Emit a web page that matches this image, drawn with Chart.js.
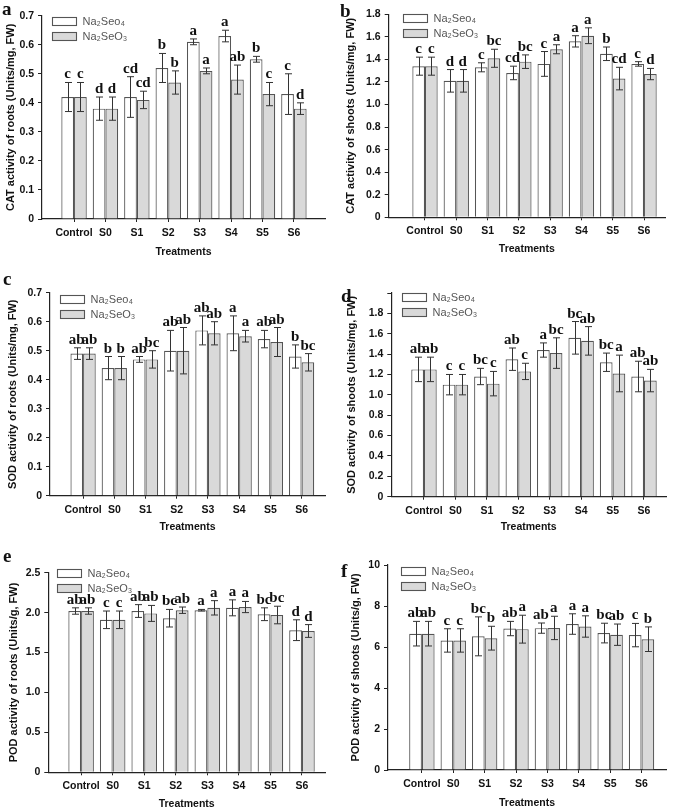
<!DOCTYPE html>
<html>
<head>
<meta charset="utf-8">
<title>Antioxidant enzyme activity</title>
<script src="https://cdn.jsdelivr.net/npm/chart.js@4.4.1/dist/chart.umd.min.js"></script>
<style>
  html, body { margin: 0; padding: 0; background: #fff; }
  #page { position: relative; width: 678px; height: 810px; overflow: hidden; }
  #page canvas { position: absolute; }
</style>
</head>
<body>
<div id="page">
  <canvas id="chartA" width="338" height="270" style="left:0;top:0"></canvas>
  <canvas id="chartB" width="340" height="270" style="left:338px;top:0"></canvas>
  <canvas id="chartC" width="338" height="270" style="left:0;top:270px"></canvas>
  <canvas id="chartD" width="340" height="270" style="left:338px;top:270px"></canvas>
  <canvas id="chartE" width="338" height="270" style="left:0;top:540px"></canvas>
  <canvas id="chartF" width="340" height="270" style="left:338px;top:540px"></canvas>
</div>
<script>
const treatments = ["Control", "S0", "S1", "S2", "S3", "S4", "S5", "S6"];
const seriesNames = ["Na₂Seo₄", "Na₂SeO₃"];

// a - CAT roots
const catRootsSeo4 = [0.42, 0.38, 0.42, 0.52, 0.61, 0.63, 0.55, 0.43];
const catRootsSeo4Err = [0.05, 0.04, 0.07, 0.05, 0.01, 0.02, 0.01, 0.07];
const catRootsSeo4Sig = ["c", "d", "cd", "b", "a", "a", "b", "c"];
const catRootsSeo3 = [0.42, 0.38, 0.41, 0.47, 0.51, 0.48, 0.43, 0.38];
const catRootsSeo3Err = [0.05, 0.04, 0.03, 0.04, 0.01, 0.05, 0.04, 0.02];
const catRootsSeo3Sig = ["c", "d", "cd", "b", "a", "ab", "c", "d"];

// b - CAT shoots
const catShootsSeo4 = [1.34, 1.21, 1.33, 1.28, 1.36, 1.56, 1.45, 1.36];
const catShootsSeo4Err = [0.08, 0.10, 0.04, 0.06, 0.11, 0.05, 0.06, 0.02];
const catShootsSeo4Sig = ["c", "d", "c", "cd", "c", "a", "b", "c"];
const catShootsSeo3 = [1.34, 1.21, 1.41, 1.38, 1.49, 1.61, 1.23, 1.27];
const catShootsSeo3Err = [0.08, 0.10, 0.08, 0.06, 0.04, 0.07, 0.10, 0.05];
const catShootsSeo3Sig = ["c", "d", "bc", "bc", "a", "a", "cd", "d"];

// c - SOD roots
const sodRootsSeo4 = [0.49, 0.44, 0.47, 0.50, 0.57, 0.56, 0.54, 0.48];
const sodRootsSeo4Err = [0.02, 0.04, 0.01, 0.07, 0.05, 0.06, 0.03, 0.04];
const sodRootsSeo4Sig = ["ab", "b", "ab", "ab", "ab", "a", "ab", "b"];
const sodRootsSeo3 = [0.49, 0.44, 0.47, 0.50, 0.56, 0.55, 0.53, 0.46];
const sodRootsSeo3Err = [0.02, 0.04, 0.03, 0.08, 0.04, 0.02, 0.05, 0.03];
const sodRootsSeo3Sig = ["ab", "b", "bc", "ab", "ab", "a", "ab", "bc"];

// d - SOD shoots
const sodShootsSeo4 = [1.25, 1.10, 1.18, 1.35, 1.44, 1.56, 1.32, 1.18];
const sodShootsSeo4Err = [0.12, 0.10, 0.08, 0.11, 0.07, 0.16, 0.09, 0.15];
const sodShootsSeo4Sig = ["ab", "c", "bc", "ab", "a", "bc", "bc", "ab"];
const sodShootsSeo3 = [1.25, 1.10, 1.11, 1.23, 1.41, 1.53, 1.21, 1.14];
const sodShootsSeo3Err = [0.12, 0.10, 0.12, 0.08, 0.15, 0.14, 0.18, 0.11];
const sodShootsSeo3Sig = ["ab", "c", "c", "c", "bc", "ab", "a", "ab"];

// e - POD roots
const podRootsSeo4 = [2.02, 1.91, 2.02, 1.93, 2.03, 2.06, 1.98, 1.78];
const podRootsSeo4Err = [0.04, 0.11, 0.08, 0.11, 0.01, 0.10, 0.08, 0.13];
const podRootsSeo4Sig = ["ab", "c", "ab", "bc", "a", "a", "bc", "d"];
const podRootsSeo3 = [2.02, 1.91, 1.99, 2.03, 2.06, 2.07, 1.97, 1.77];
const podRootsSeo3Err = [0.04, 0.11, 0.10, 0.04, 0.09, 0.07, 0.11, 0.08];
const podRootsSeo3Sig = ["ab", "c", "ab", "ab", "a", "a", "bc", "d"];

// f - POD shoots
const podShootsSeo4 = [6.65, 6.32, 6.52, 6.90, 6.92, 7.12, 6.68, 6.58];
const podShootsSeo4Err = [0.60, 0.57, 0.95, 0.35, 0.25, 0.50, 0.48, 0.57];
const podShootsSeo4Sig = ["ab", "c", "bc", "ab", "ab", "a", "bc", "c"];
const podShootsSeo3 = [6.65, 6.32, 6.43, 6.87, 6.93, 7.00, 6.60, 6.38];
const podShootsSeo3Err = [0.60, 0.57, 0.58, 0.68, 0.57, 0.52, 0.52, 0.60];
const podShootsSeo3Sig = ["ab", "c", "b", "a", "a", "a", "ab", "b"];

const AXIS = "#222";
const TEXT = "#111";
const SANS = "'Liberation Sans', Arial, sans-serif";
const SERIF = "'Liberation Serif', 'Times New Roman', serif";

// error bars + significance letters
const errorBarPlugin = {
    id: "errorBars",
    afterDatasetsDraw(chart) {
        const ctx = chart.ctx;
        const yScale = chart.scales.y;
        chart.data.datasets.forEach((ds, di) => {
            const meta = chart.getDatasetMeta(di);
            meta.data.forEach((bar, i) => {
                const v = ds.data[i].y;
                const e = ds.errors[i];
                const x = Math.round(bar.x) + 0.5;
                const yTop = yScale.getPixelForValue(v + e);
                const yBot = yScale.getPixelForValue(v - e);
                ctx.save();
                ctx.strokeStyle = "#333";
                ctx.lineWidth = 1;
                ctx.beginPath();
                ctx.moveTo(x, yTop);
                ctx.lineTo(x, yBot);
                ctx.moveTo(x - 3.5, yTop);
                ctx.lineTo(x + 3.5, yTop);
                ctx.moveTo(x - 3.5, yBot);
                ctx.lineTo(x + 3.5, yBot);
                ctx.stroke();
                ctx.font = "bold 15px " + SERIF;
                ctx.fillStyle = TEXT;
                ctx.textAlign = "center";
                ctx.textBaseline = "alphabetic";
                ctx.fillText(ds.letters[i], bar.x, yTop - 4);
                ctx.restore();
            });
        });
    }
};

// boxed legend inside the plot area + panel letter
const panelDecorPlugin = {
    id: "panelDecor",
    afterDraw(chart, args, opts) {
        const { ctx, chartArea } = chart;
        ctx.save();
        chart.data.datasets.forEach((ds, i) => {
            const x = Math.round(chartArea.left + opts.legendX) + 0.5;
            const y = Math.round(chartArea.top + opts.legendY + i * 15) + 0.5;
            ctx.fillStyle = ds.backgroundColor;
            ctx.fillRect(x, y, 24, 8);
            ctx.strokeStyle = "#555";
            ctx.lineWidth = 1.1;
            ctx.strokeRect(x, y, 24, 8);
            ctx.fillStyle = "#555";
            ctx.font = "11px " + SANS;
            ctx.textAlign = "left";
            ctx.textBaseline = "middle";
            ctx.fillText(ds.label, x + 30, y + 4.5);
        });
        ctx.font = "bold 19px " + SERIF;
        ctx.fillStyle = TEXT;
        ctx.textAlign = "left";
        ctx.textBaseline = "alphabetic";
        ctx.fillText(opts.tag, opts.tagX, opts.tagY);
        ctx.restore();
    }
};

function makeDataset(label, values, errors, letters, fill) {
    return {
        label: label,
        data: treatments.map((t, i) => ({ x: i, y: values[i] })),
        errors: errors,
        letters: letters,
        backgroundColor: fill,
        borderColor: "#555",
        borderWidth: 1.2,
        categoryPercentage: 0.81,
        barPercentage: 1.0
    };
}

function createPanel(canvasId, p) {
    const ctx = document.getElementById(canvasId);
    if (!ctx) {
        console.error(`Canvas element with id '${canvasId}' not found.`);
        return null;
    }
    const h = ctx.height;
    const w = ctx.width;
    return new Chart(ctx, {
        type: "bar",
        data: {
            datasets: [
                makeDataset(seriesNames[0], p.seo4, p.seo4Err, p.seo4Sig, "#ffffff"),
                makeDataset(seriesNames[1], p.seo3, p.seo3Err, p.seo3Sig, "#d9d9d9")
            ]
        },
        options: {
            responsive: false,
            animation: false,
            devicePixelRatio: 1,
            layout: { padding: { left: 0, top: p.area.top, right: w - p.area.right, bottom: 0 } },
            plugins: {
                legend: { display: false },
                tooltip: { enabled: false },
                panelDecor: { legendX: p.legendX, legendY: p.legendY, tag: p.tag, tagX: p.tagX, tagY: p.tagY }
            },
            scales: {
                x: {
                    type: "linear",
                    offset: false,
                    min: p.xMin,
                    max: p.xMax,
                    afterBuildTicks: (axis) => { axis.ticks = treatments.map((t, i) => ({ value: i })); },
                    afterFit: (axis) => { axis.height = h - p.area.bottom; },
                    ticks: {
                        autoSkip: false,
                        maxRotation: 0,
                        padding: 5,
                        color: TEXT,
                        font: { family: SANS, size: 10.5, weight: "bold" },
                        callback: (v) => treatments[v]
                    },
                    grid: { display: true, offset: false, drawOnChartArea: false, drawTicks: true, tickLength: 3, color: AXIS },
                    border: { display: true, color: AXIS, width: 1.2 },
                    title: {
                        display: true,
                        text: "Treatments",
                        color: TEXT,
                        font: { family: SANS, size: 10.5, weight: "bold" },
                        padding: { top: 0, bottom: p.xTitlePad }
                    }
                },
                y: {
                    min: 0,
                    max: p.yMax,
                    afterFit: (axis) => { axis.width = p.area.left; },
                    ticks: {
                        stepSize: p.yStep,
                        padding: 4,
                        color: TEXT,
                        font: { family: SANS, size: 10.5, weight: "bold" },
                        callback: (v) => {
                            if (p.hideTop && Math.abs(v - p.yMax) < 1e-9) return "";
                            return v === 0 ? "0" : v.toFixed(p.decimals);
                        }
                    },
                    grid: { display: true, drawOnChartArea: false, drawTicks: true, tickLength: 4, color: AXIS },
                    border: { display: true, color: AXIS, width: 1.2 },
                    title: {
                        display: true,
                        text: p.yTitle,
                        color: TEXT,
                        font: { family: SANS, size: 11, weight: "bold" },
                        padding: { top: p.yTitlePad, bottom: 0 }
                    }
                }
            }
        },
        plugins: [errorBarPlugin, panelDecorPlugin]
    });
}

createPanel("chartA", {
    seo4: catRootsSeo4, seo4Err: catRootsSeo4Err, seo4Sig: catRootsSeo4Sig,
    seo3: catRootsSeo3, seo3Err: catRootsSeo3Err, seo3Sig: catRootsSeo3Sig,
    yTitle: "CAT activity of roots (Units/mg, FW)",
    yMax: 0.7, yStep: 0.1, decimals: 1,
    area: { left: 42, top: 15.7, right: 325, bottom: 219 },
    xMin: -1.02, xMax: 7.99,
    yTitlePad: 4.4, xTitlePad: 11.4,
    legendX: 10, legendY: 1.3,
    tag: "a", tagX: 2, tagY: 15
});

createPanel("chartB", {
    seo4: catShootsSeo4, seo4Err: catShootsSeo4Err, seo4Sig: catShootsSeo4Sig,
    seo3: catShootsSeo3, seo3Err: catShootsSeo3Err, seo3Sig: catShootsSeo3Sig,
    yTitle: "CAT activity of shoots (Units/mg, FW)",
    yMax: 1.8, yStep: 0.2, decimals: 1,
    area: { left: 50.7, top: 14.3, right: 327, bottom: 217.3 },
    xMin: -1.16, xMax: 7.67,
    yTitlePad: 5.9, xTitlePad: 14.4,
    legendX: 14, legendY: 0,
    tag: "b", tagX: 2, tagY: 16.7
});

createPanel("chartC", {
    seo4: sodRootsSeo4, seo4Err: sodRootsSeo4Err, seo4Sig: sodRootsSeo4Sig,
    seo3: sodRootsSeo3, seo3Err: sodRootsSeo3Err, seo3Sig: sodRootsSeo3Sig,
    yTitle: "SOD activity of roots (Units/mg, FW)",
    yMax: 0.7, yStep: 0.1, decimals: 1,
    area: { left: 50, top: 22.7, right: 325, bottom: 225.7 },
    xMin: -1.06, xMax: 7.75,
    yTitlePad: 6.4, xTitlePad: 7,
    legendX: 10, legendY: 2.3,
    tag: "c", tagX: 3, tagY: 15
});

createPanel("chartD", {
    seo4: sodShootsSeo4, seo4Err: sodShootsSeo4Err, seo4Sig: sodShootsSeo4Sig,
    seo3: sodShootsSeo3, seo3Err: sodShootsSeo3Err, seo3Sig: sodShootsSeo3Sig,
    yTitle: "SOD activity of shoots (Units/mg, FW)",
    yMax: 2.0, yStep: 0.2, decimals: 1, hideTop: true,
    area: { left: 53.3, top: 23, right: 328, bottom: 226.7 },
    xMin: -1.04, xMax: 7.70,
    yTitlePad: 7.4, xTitlePad: 6.4,
    legendX: 11, legendY: 0,
    tag: "d", tagX: 3, tagY: 31.7
});

createPanel("chartE", {
    seo4: podRootsSeo4, seo4Err: podRootsSeo4Err, seo4Sig: podRootsSeo4Sig,
    seo3: podRootsSeo3, seo3Err: podRootsSeo3Err, seo3Sig: podRootsSeo3Sig,
    yTitle: "POD activity of roots (Units/g, FW)",
    yMax: 2.5, yStep: 0.5, decimals: 1,
    area: { left: 48.3, top: 32.7, right: 325, bottom: 232.3 },
    xMin: -1.04, xMax: 7.73,
    yTitlePad: 6.9, xTitlePad: 0,
    legendX: 9, legendY: -3.4,
    tag: "e", tagX: 3, tagY: 21.7
});

createPanel("chartF", {
    seo4: podShootsSeo4, seo4Err: podShootsSeo4Err, seo4Sig: podShootsSeo4Sig,
    seo3: podShootsSeo3, seo3Err: podShootsSeo3Err, seo3Sig: podShootsSeo3Sig,
    yTitle: "POD activity of shoots (Units/g, FW)",
    yMax: 10, yStep: 2, decimals: 0,
    area: { left: 50, top: 25, right: 328, bottom: 230 },
    xMin: -1.08, xMax: 7.78,
    yTitlePad: 10.9, xTitlePad: 0.4,
    legendX: 13, legendY: 1.7,
    tag: "f", tagX: 3, tagY: 36.7
});
</script>
</body>
</html>
